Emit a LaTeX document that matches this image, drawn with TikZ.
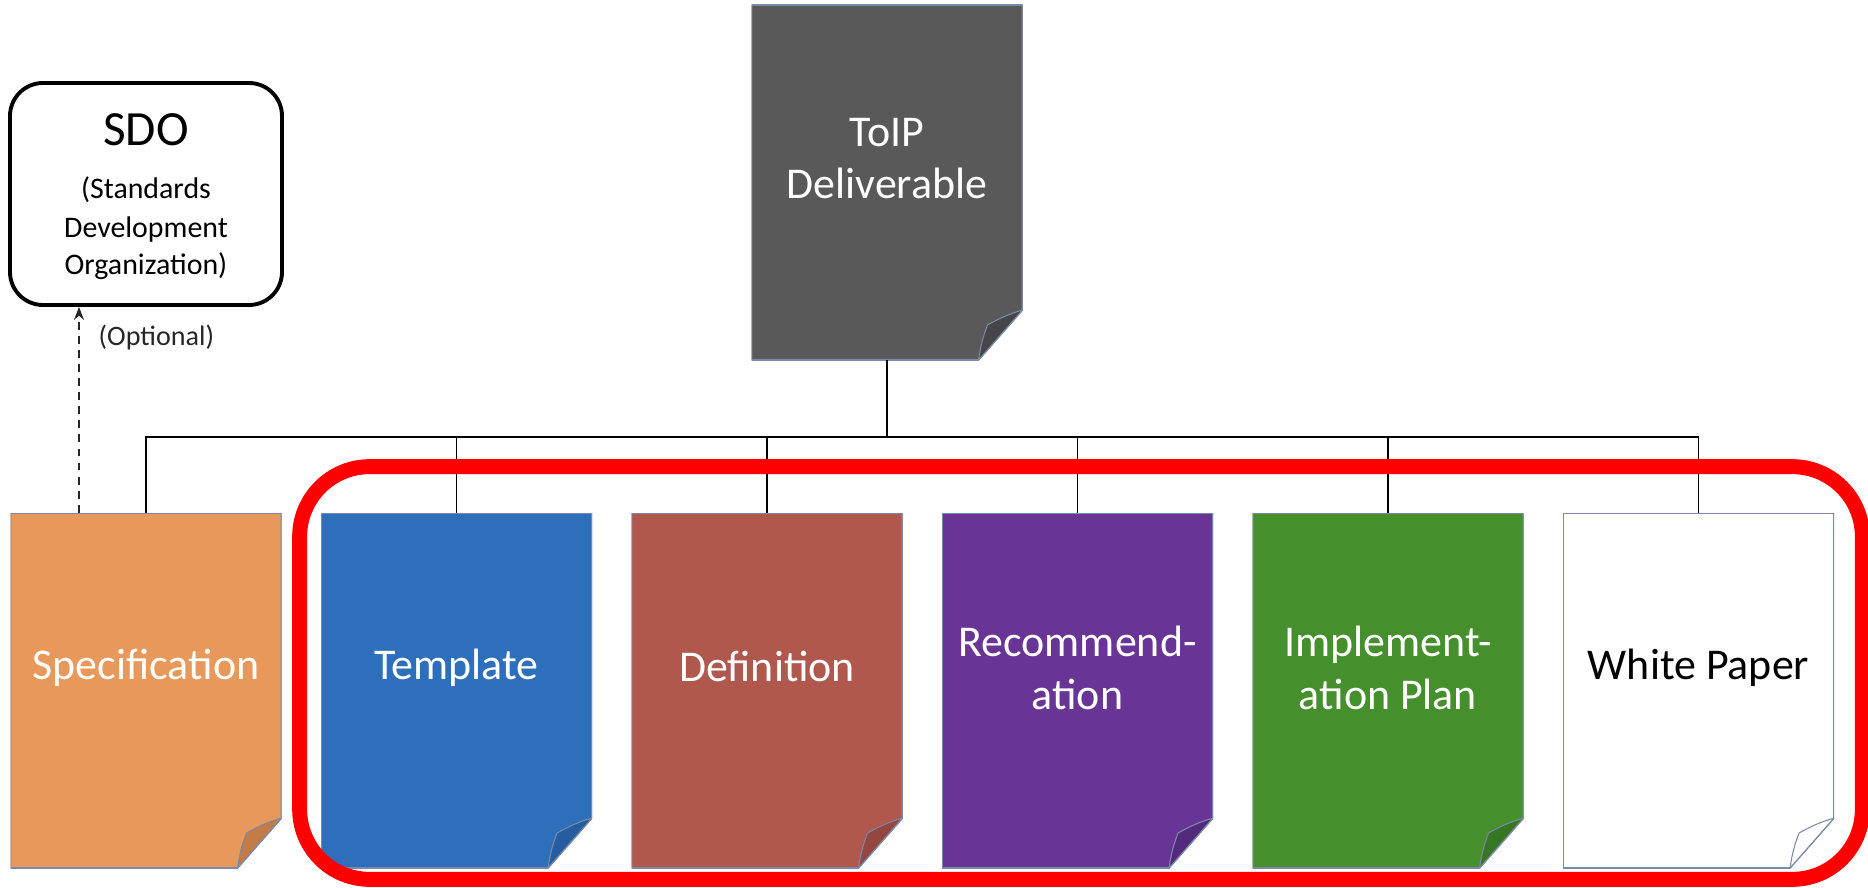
\documentclass[tikz,border=0pt]{standalone}
\usepackage{fontspec}
\setmainfont{Carlito}
\usepackage{xcolor}
\usepackage{tikz}
\usetikzlibrary{positioning, arrows.meta}

\definecolor{pageedge}{RGB}{122,138,168}
\definecolor{toipgray}{RGB}{89,89,89}
\definecolor{toipflap}{RGB}{70,70,72}
\definecolor{specorange}{RGB}{232,152,90}
\definecolor{specflap}{RGB}{196,124,70}
\definecolor{tmplblue}{RGB}{46,111,188}
\definecolor{tmplflap}{RGB}{38,92,160}
\definecolor{defnred}{RGB}{176,87,78}
\definecolor{defnflap}{RGB}{148,70,63}
\definecolor{recmpurple}{RGB}{104,53,150}
\definecolor{recmflap}{RGB}{84,42,124}
\definecolor{implgreen}{RGB}{69,143,44}
\definecolor{implflap}{RGB}{55,118,34}

\begin{document}
\begin{tikzpicture} [node distance = 6.21cm, on grid,
    paper/.style 2 args = {minimum width = 5.42cm, minimum height = 7.1cm,
      inner sep = 0pt, path picture = {
        \coordinate (nw) at (path picture bounding box.north west);
        \coordinate (se) at (path picture bounding box.south east);
        \filldraw [fill = #1, draw = pageedge, line width = 0.9pt]
          (nw) -- (nw -| se) -- ([yshift = 1cm]se) -- ([xshift = -0.88cm]se)
          -- (nw |- se) -- cycle;
        \filldraw [fill = #2, draw = pageedge, line width = 0.6pt]
          ([xshift = -0.88cm]se) to [bend left = 6] ([shift = {(-0.7cm,0.7cm)}]se)
          to [bend left = 6] ([yshift = 1cm]se) -- cycle;}},
    doctext/.style = {align = center, text = white, inner sep = 0pt,
      font = \fontsize{25}{30}\selectfont},
    sdobox/.style = {draw, line width = 2.2pt, rounded corners = 0.66cm,
      minimum width = 5.44cm, minimum height = 4.44cm, align = center,
      text depth = -4pt, font = \fontsize{17}{21}\selectfont},
    link/.style = {line width = 1pt},
    frame/.style = {draw = red, line width = 8.5pt, rounded corners = 1.4cm}]

  \useasboundingbox (0,0) rectangle (37.36,-17.76);

  \node (toip) [paper = {toipgray}{toipflap}] at (17.74,-3.65) {};
  \node (spec) [paper = {specorange}{specflap}] at (2.92,-13.81) {};
  \node (tmpl) [paper = {tmplblue}{tmplflap}, right = of spec] {};
  \node (defn) [paper = {defnred}{defnflap}, right = of tmpl] {};
  \node (recm) [paper = {recmpurple}{recmflap}, right = of defn] {};
  \node (impl) [paper = {implgreen}{implflap}, right = of recm] {};
  \node (wpap) [paper = {white}{white}, right = of impl] {};

  \node (sdo) [sdobox, above = 9.93cm of spec]
    {{\fontsize{28}{28}\selectfont SDO}\\[9pt](Standards\\[1pt]Development\\Organization)};

  % labels on the pages
  \node (toipT) [doctext] at ([yshift = 0.48cm]toip.center) {ToIP\\Deliverable};
  \node (specT) [doctext] at ([yshift = 0.45cm]spec.center) {Specification};
  \node (tmplT) [doctext] at ([yshift = 0.45cm]tmpl.center) {Template};
  \node (defnT) [doctext, text depth = 0.22em] at ([yshift = 0.45cm]defn.center) {Definition};
  \node (recmT) [doctext] at ([yshift = 0.45cm]recm.center) {Recommend-\\ation};
  \node (implT) [doctext] at ([yshift = 0.45cm]impl.center) {Implement-\\ation Plan};
  \node (wpapT) [doctext, text = black] at ([yshift = 0.45cm]wpap.center) {White Paper};

  % tree
  \coordinate [below = 1.54cm of toip.south] (hub);
  \draw [link] (toip.south) -- (hub);
  \foreach \d in {spec, tmpl, defn, recm, impl, wpap}
    \draw [link] (hub) -| (\d.north);

  \draw [line width = 0.8pt, black!85, dash pattern = on 4.5pt off 3.5pt,
      -{Stealth[length = 0.26cm, width = 0.2cm]}]
    ([xshift = -1.34cm]spec.north) -- node [pos = 0.85, right = 0.38cm,
      inner sep = 0pt, font = \fontsize{16}{19}\selectfont] (opt) {(Optional)}
    ([xshift = -1.34cm]sdo.south);

  \draw [frame] ([shift = {(-0.42cm,0.92cm)}]tmpl.north west) rectangle
    ([shift = {(0.56cm,-0.22cm)}]wpap.south east);

\end{tikzpicture}
\end{document}
